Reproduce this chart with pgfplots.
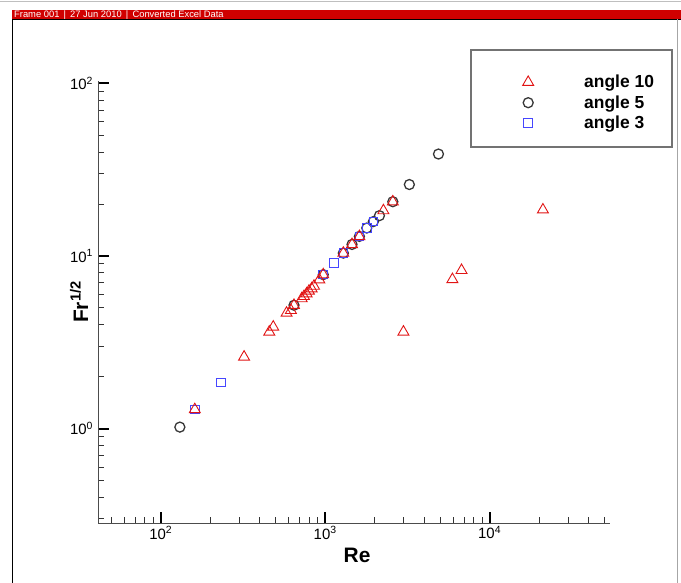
\documentclass[border=0pt]{standalone}
\usepackage{fontspec}
\setmainfont{Liberation Sans}
\usepackage{pgfplots}
\pgfplotsset{compat=1.18}
\definecolor{tpred}{RGB}{208,0,0}
\definecolor{trired}{RGB}{225,20,20}
\definecolor{sqblue}{RGB}{70,70,255}
\definecolor{circ}{RGB}{55,55,55}
\pgfplotsset{myleg/.style={legend image code/.code={\path[draw=none,fill=none] (0bp,-10.25bp) rectangle (113bp,10.25bp); \draw[##1] plot coordinates {(57bp,0bp)};}}}
\begin{document}
\begin{tikzpicture}
\path[use as bounding box] (0bp,0bp) rectangle (681bp,583bp);
% frame decorations
\draw[gray!50, line width=0.8bp] (0bp,581.5bp) -- (681bp,581.5bp);
\fill[tpred] (12bp,564bp) rectangle (681bp,572.5bp);
\draw[black, line width=1bp] (12bp,563.5bp) -- (681bp,563.5bp);
\draw[black, line width=1bp] (12bp,563.5bp) -- (12bp,0bp);
\draw[gray!70, line width=0.8bp] (677bp,563.5bp) -- (677bp,0bp);
\node[anchor=west, text=white, font=\fontsize{9.4}{10}\selectfont, inner sep=0pt] at (14bp,568.2bp) {Frame 001 \,\textbar\, 27 Jun 2010 \,\textbar\, Converted Excel Data};
% legend frame
\draw[black!55, line width=1.2bp] (471bp,533bp) rectangle (672bp,436bp);
\begin{axis}[
  at={(98bp,60bp)}, anchor=south west,
  scale only axis, width=512bp, height=442bp,
  xmode=log, ymode=log,
  xmin=41.5, xmax=54000, ymin=0.284, ymax=103,
  axis x line=bottom, axis y line=left,
  axis line style={-, black!70, line width=1bp},
  tick align=inside,
  xtick={100,1000,10000},
  xticklabels={10\textsuperscript{2},10\textsuperscript{3},10\textsuperscript{4}},
  ytick={1,10,100},
  yticklabels={10\textsuperscript{0},10\textsuperscript{1},10\textsuperscript{2}},
  minor xtick={50,60,70,80,90,200,300,400,500,600,700,800,900,2000,3000,4000,5000,6000,7000,8000,9000,20000,30000,40000,50000},
  minor ytick={0.3,0.4,0.5,0.6,0.7,0.8,0.9,2,3,4,5,6,7,8,9,20,30,40,50,60,70,80,90},
  major tick length=11bp, minor tick length=6bp,
  every major tick/.append style={line width=2bp, black},
  every minor tick/.append style={line width=0.8bp, black!80},
  tick label style={font=\fontsize{15}{17}\selectfont},
  yticklabel style={xshift=-1.5bp},
  xlabel={Re},
  xlabel style={font=\bfseries\fontsize{21}{23}\selectfont, at={(axis description cs:0.506,-0.0724)}, anchor=center},
  ylabel={Fr\textsuperscript{1/2}},
  ylabel style={font=\bfseries\fontsize{21}{23}\selectfont, at={(axis description cs:-0.037,0.5)}, anchor=center},
  clip=false,
  legend style={at={(axis description cs:0.7285,1.0209)}, anchor=north west, draw=none, fill=none,
    inner sep=0pt, row sep=0pt, column sep=0pt, font=\bfseries\fontsize{17.5}{19}\selectfont,
    nodes={inner sep=0pt}},
  legend cell align=left,
]
\addlegendimage{only marks, mark=triangle, mark size=6.3bp, trired, mark options={line width=0.9bp}, myleg}
\addlegendentry{angle 10}
\addlegendimage{only marks, mark=o, mark size=5bp, circ, mark options={line width=1.3bp}, myleg}
\addlegendentry{angle 5}
\addlegendimage{only marks, mark=square, mark size=4.3bp, sqblue, mark options={line width=0.9bp}, myleg}
\addlegendentry{angle 3}

% angle 5
\addplot[only marks, mark=o, mark size=5bp, circ, mark options={line width=1.3bp}, forget plot] coordinates {
(130.6,1.02) (646,5.18) (973,7.79) (1289,10.38) (1456,11.65) (1614,12.97)
(1790,14.5) (1963,15.8) (2137,17.1) (2578,20.6) (3250,25.9) (4886,38.9)
};
% angle 3
\addplot[only marks, mark=square, mark size=4.3bp, sqblue, mark options={line width=0.9bp}, forget plot] coordinates {
(161,1.29) (232,1.85) (973,7.79) (1132,9.09) (1289,10.38) (1614,12.97) (1790,14.5) (1963,15.8)
};
% angle 10
\addplot[only marks, mark=triangle, mark size=6.3bp, trired, mark options={line width=0.9bp}, forget plot] coordinates {
(161,1.29) (321,2.60) (457,3.63) (483,3.88) (582,4.67) (619,4.84) (646,5.18)
(720,5.66) (743,5.83) (771,6.04) (797,6.26) (827,6.46) (855,6.69) (921,7.28)
(973,7.79) (1289,10.38) (1456,11.65) (1614,12.97) (2260,18.3) (2578,20.6)
(2992,3.63) (5940,7.31) (6750,8.25) (21100,18.5)
};
\end{axis}
\end{tikzpicture}
\end{document}
